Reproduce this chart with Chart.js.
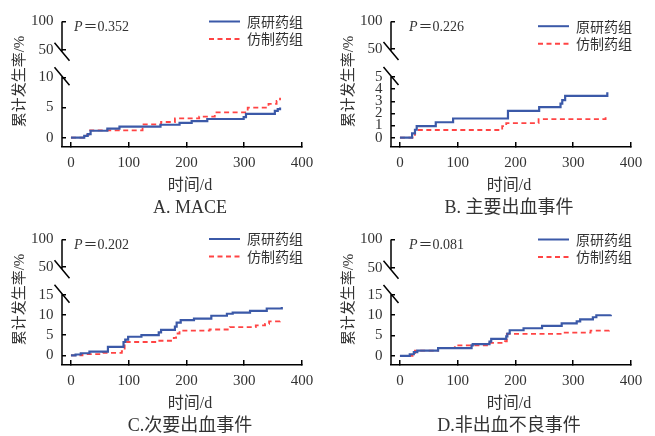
<!DOCTYPE html>
<html lang="zh">
<head>
<meta charset="UTF-8">
<title>累计发生率</title>
<script src="https://cdn.jsdelivr.net/npm/chart.js@4.4.0/dist/chart.umd.min.js"></script>
<style>
  body { margin: 0; background: #fff; }
  #wrap { position: relative; width: 655px; height: 436px; }
  #wrap canvas { position: absolute; }
</style>
</head>
<body>
<div id="wrap">
  <canvas id="cA" width="327" height="218" style="left:0;top:0"></canvas>
  <canvas id="cB" width="327" height="218" style="left:329px;top:0"></canvas>
  <canvas id="cC" width="327" height="218" style="left:0;top:218px"></canvas>
  <canvas id="cD" width="327" height="218" style="left:329px;top:218px"></canvas>
</div>
<script>
// ---- data ----
const legendLabels = ['原研药组', '仿制药组'];
const xTitle = '时间/d';
const yTitle = '累计发生率/%';
const xTicks = [0, 100, 200, 300, 400];
const yTopTicks = [50, 100];

// A. MACE
const aYTicks = [0, 5, 10];
const aOrigDays = [0, 23, 29, 34, 63, 84, 155, 188, 209, 236, 299, 303, 353, 358, 362];
const aOrigRate = [0, 0.3, 0.6, 1.15, 1.5, 1.85, 2.15, 2.45, 2.75, 3.1, 3.4, 3.95, 4.45, 4.75, 5.0];
const aGenDays = [0, 28, 31, 124, 156, 180, 222, 249, 306, 342, 356, 362];
const aGenRate = [0, 0.5, 1.2, 2.2, 2.6, 3.2, 3.5, 4.2, 5.0, 5.6, 6.1, 6.6];

// B. 主要出血事件
const bYTicks = [0, 1, 2, 3, 4, 5];
const bOrigDays = [0, 21, 26, 29, 62, 92, 187, 241, 278, 281, 286, 359];
const bOrigRate = [0, 0.35, 0.65, 0.95, 1.27, 1.58, 2.2, 2.52, 2.8, 3.1, 3.45, 3.75];
const bGenDays = [0, 26, 177, 184, 240, 356];
const bGenRate = [0, 0.63, 0.95, 1.2, 1.53, 1.87];

// C. 次要出血事件
const cYTicks = [0, 5, 10, 15];
const cOrigDays = [0, 8, 17, 32, 64, 91, 94, 99, 122, 152, 156, 180, 183, 190, 213, 243, 270, 280, 310, 339, 365];
const cOrigRate = [0, 0.2, 0.5, 0.9, 2.1, 3.3, 3.9, 4.6, 5.0, 5.7, 6.3, 7.1, 8.1, 8.7, 9.1, 9.8, 10.3, 10.6, 11.0, 11.6, 12.0];
const cGenDays = [0, 20, 55, 88, 93, 96, 150, 178, 182, 188, 240, 275, 320, 336, 343, 362];
const cGenRate = [0, 0.3, 0.6, 1.0, 2.8, 3.3, 3.6, 4.3, 5.4, 6.1, 6.4, 7.0, 7.4, 7.8, 8.4, 8.8];

// D. 非出血不良事件
const dYTicks = [0, 5, 10, 15];
const dOrigDays = [0, 17, 24, 30, 66, 124, 126, 155, 158, 184, 186, 190, 214, 246, 280, 306, 312, 334, 340, 365];
const dOrigRate = [0, 0.4, 0.9, 1.3, 1.9, 2.6, 2.9, 3.5, 4.2, 4.8, 5.5, 6.3, 6.8, 7.4, 8.0, 8.5, 9.0, 9.5, 10.0, 10.1];
const dGenDays = [0, 26, 66, 95, 155, 182, 185, 280, 330, 362];
const dGenRate = [0, 1.3, 1.9, 2.6, 3.2, 3.6, 5.4, 5.7, 6.2, 6.3];

const pValues = ['0.352', '0.226', '0.202', '0.081'];
const captions = ['A. MACE', 'B. 主要出血事件', 'C.次要出血事件', 'D.非出血不良事件'];

// ---- chart setup ----
const FONT = '"Liberation Serif", "Noto Sans CJK SC", serif';
Chart.defaults.font.family = FONT;
Chart.defaults.font.size = 15;
Chart.defaults.color = '#333';

function pts(days, rates) {
  return days.map((d, i) => ({x: d, y: rates[i]}));
}

// broken y axis, legend, P value and captions
const decor = {
  id: 'decor',
  afterDraw(chart, args, o) {
    const {ctx, chartArea: a, scales} = chart;
    const yt = scales.yTop, yl = scales.y;
    const x0 = a.left;
    const cut1 = yt.getPixelForValue(50) + 2;
    const cut2 = yl.getPixelForValue(yl.ticks[yl.ticks.length - 1].value) - 1;
    ctx.save();
    ctx.strokeStyle = '#000';
    ctx.lineWidth = 1.5;
    ctx.beginPath();
    ctx.moveTo(x0, yt.getPixelForValue(100));
    ctx.lineTo(x0, cut1);
    ctx.moveTo(x0, cut2);
    ctx.lineTo(x0, a.bottom);
    for (const c of [cut1, cut2]) {
      ctx.moveTo(x0 - 7.5, c - 9);
      ctx.lineTo(x0 + 7.5, c + 9);
    }
    ctx.stroke();

    // legend
    ctx.textBaseline = 'middle';
    ctx.textAlign = 'left';
    chart.data.datasets.forEach((ds, i) => {
      const y = a.top + o.legDy + i * 17.5;
      ctx.beginPath();
      ctx.strokeStyle = ds.borderColor;
      ctx.lineWidth = 2;
      ctx.setLineDash(ds.borderDash || []);
      ctx.moveTo(x0 + 147, y);
      ctx.lineTo(x0 + 178, y);
      ctx.stroke();
      ctx.setLineDash([]);
      ctx.fillStyle = '#333';
      ctx.font = '14px "Noto Sans CJK SC"';
      ctx.fillText(ds.label, x0 + 185, y);
    });

    // P value
    const py = yt.getPixelForValue(100) + 6;
    ctx.font = 'italic 14px "Liberation Serif"';
    ctx.fillText('P', x0 + o.pDx, py);
    const w = ctx.measureText('P').width;
    ctx.font = '14px ' + FONT;
    ctx.fillText('＝' + o.p, x0 + o.pDx + w + 1, py);

    // axis titles and caption
    ctx.textAlign = 'center';
    ctx.font = '16px ' + FONT;
    ctx.fillText(xTitle, x0 + o.titleDx, a.bottom + 38.5);
    ctx.font = '18px ' + FONT;
    ctx.fillText(o.caption, x0 + o.titleDx, a.bottom + 61);

    ctx.translate(x0 - 42, a.top + 60);
    ctx.rotate(-Math.PI / 2);
    ctx.font = '15px ' + FONT;
    ctx.fillText(yTitle, 0, 0);
    ctx.restore();
  }
};

const panels = [
  {id: 'cA', orig: pts(aOrigDays, aOrigRate), gen: pts(aGenDays, aGenRate), yTicks: aYTicks,
   yMin: -1.54, yMax: 12.27, topMin: 25.4, padTop: 16, pDx: 12, legDy: 0, titleDx: 128},
  {id: 'cB', orig: pts(bOrigDays, bOrigRate), gen: pts(bGenDays, bGenRate), yTicks: bYTicks,
   yMin: -0.77, yMax: 6.1, topMin: 23.5, padTop: 16, pDx: 18, legDy: 4.7, titleDx: 118},
  {id: 'cC', orig: pts(cOrigDays, cOrigRate), gen: pts(cGenDays, cGenRate), yTicks: cYTicks,
   yMin: -2.41, yMax: 18.5, topMin: 25.7, padTop: 17.5, pDx: 12, legDy: -0.5, titleDx: 128},
  {id: 'cD', orig: pts(dOrigDays, dOrigRate), gen: pts(dGenDays, dGenRate), yTicks: dYTicks,
   yMin: -2.25, yMax: 18.5, topMin: 27, padTop: 17.5, pDx: 18, legDy: 0, titleDx: 118}
];

panels.forEach((p, k) => {
  new Chart(document.getElementById(p.id), {
    type: 'line',
    data: {
      datasets: [{
        label: legendLabels[0],
        data: p.orig,
        borderColor: '#3b59a8',
        borderWidth: 2.2,
        stepped: 'before',
        pointRadius: 0,
        yAxisID: 'y'
      }, {
        label: legendLabels[1],
        data: p.gen,
        borderColor: '#ff4444',
        borderWidth: 1.8,
        borderDash: [5, 3.5],
        stepped: 'before',
        pointRadius: 0,
        yAxisID: 'y'
      }]
    },
    options: {
      responsive: false,
      animation: false,
      layout: {padding: {left: 0, right: 25, top: p.padTop, bottom: 0}},
      scales: {
        x: {
          type: 'linear',
          min: -15.5,
          max: 400,
          afterBuildTicks: s => { s.ticks = xTicks.map(v => ({value: v})); },
          afterFit: s => { s.height = 71; },
          grid: {drawOnChartArea: false, tickLength: -5, color: '#000', lineWidth: 1.5},
          border: {color: '#000', width: 1.5},
          ticks: {padding: 12, autoSkip: false, maxRotation: 0}
        },
        yTop: {
          type: 'linear',
          position: 'left',
          stack: 'left',
          stackWeight: 60 - p.padTop,
          weight: 1,
          min: p.topMin,
          max: 100,
          afterBuildTicks: s => { s.ticks = yTopTicks.map(v => ({value: v})); },
          afterFit: s => { s.width = 62; },
          grid: {drawOnChartArea: false, tickLength: -4, color: '#000', lineWidth: 1.5},
          border: {display: false},
          ticks: {padding: 12.5, autoSkip: false}
        },
        y: {
          type: 'linear',
          position: 'left',
          stack: 'left',
          stackWeight: 87,
          weight: 0,
          min: p.yMin,
          max: p.yMax,
          afterBuildTicks: s => { s.ticks = p.yTicks.map(v => ({value: v})); },
          afterFit: s => { s.width = 62; },
          grid: {drawOnChartArea: false, tickLength: -4, color: '#000', lineWidth: 1.5},
          border: {display: false},
          ticks: {padding: 12.5, autoSkip: false}
        }
      },
      plugins: {
        legend: {display: false},
        tooltip: {enabled: false},
        decor: {p: pValues[k], caption: captions[k], pDx: p.pDx, legDy: p.legDy, titleDx: p.titleDx}
      }
    },
    plugins: [decor]
  });
});
</script>
</body>
</html>
